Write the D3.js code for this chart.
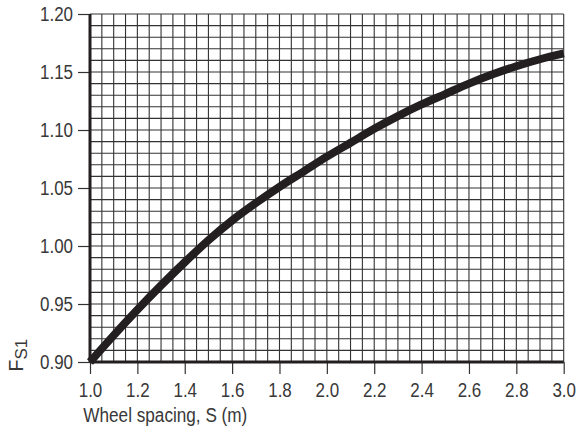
<!DOCTYPE html>
<html>
<head>
<meta charset="utf-8">
<script src="https://cdn.jsdelivr.net/npm/d3@7"></script>
<style>
  body { margin: 0; background: #fff; }
  text { font-family: "Liberation Sans", Arial, sans-serif; fill: #383838; }
</style>
</head>
<body>
<div id="chart"></div>
<script>
// values
const spacing = [1.0, 1.1, 1.2, 1.3, 1.4, 1.5, 1.6, 1.7, 1.8, 1.9, 2.0, 2.1, 2.2, 2.3, 2.4, 2.5, 2.6, 2.7, 2.8, 2.9, 3.0];
const fs1 = [0.900, 0.923, 0.945, 0.966, 0.986, 1.005, 1.022, 1.037, 1.051, 1.064, 1.077, 1.089, 1.101, 1.112, 1.122, 1.131, 1.140, 1.148, 1.155, 1.161, 1.166];
const xTicks = [1.0, 1.2, 1.4, 1.6, 1.8, 2.0, 2.2, 2.4, 2.6, 2.8, 3.0];
const yTicks = [0.90, 0.95, 1.00, 1.05, 1.10, 1.15, 1.20];
const xGridStep = 0.05;
const yGridStep = 0.01;

// condensed look: squeeze the glyphs of a text a little
function condense(sel, k) {
    sel.each(function () {
        const w = this.getComputedTextLength();
        d3.select(this)
            .attr("textLength", w * k)
            .attr("lengthAdjust", "spacingAndGlyphs");
    });
}

// set the dimensions and margins of the graph
var margin = { top: 14, right: 14.3, bottom: 74, left: 90 },
    width = 578 - margin.left - margin.right,
    height = 436 - margin.top - margin.bottom;

var svg = d3.select("#chart")
    .append("svg")
    .attr("width", 578)
    .attr("height", 436)
    .append("g")
    .attr("transform", `translate(${margin.left},${margin.top})`);

var x = d3.scaleLinear().domain([1.0, 3.0]).range([0, width]);
var y = d3.scaleLinear().domain([0.90, 1.20]).range([height, 0]);

// grid
const xGrid = d3.range(0, 41).map(i => 1.0 + i * xGridStep);
const yGrid = d3.range(0, 31).map(i => 0.90 + i * yGridStep);

svg.append("g")
    .selectAll("line")
    .data(xGrid)
    .join("line")
    .attr("x1", d => x(d)).attr("x2", d => x(d))
    .attr("y1", 0).attr("y2", height)
    .attr("stroke", "#333")
    .attr("stroke-width", 1.1);

svg.append("g")
    .selectAll("line")
    .data(yGrid)
    .join("line")
    .attr("y1", d => y(d)).attr("y2", d => y(d))
    .attr("x1", 0).attr("x2", width)
    .attr("stroke", "#333")
    .attr("stroke-width", 1.1);

// Y axis
var yAxis = svg.append("g")
    .call(d3.axisLeft(y).tickValues(yTicks).tickFormat(d3.format(".2f")).tickSize(12).tickPadding(5));
yAxis.select(".domain").remove();
yAxis.selectAll("line").attr("stroke", "#333").attr("stroke-width", 1.2);
yAxis.selectAll("text")
    .attr("font-size", "19.5px")
    .attr("font-family", null)
    .style("fill", "#383838")
    .call(condense, 0.87);

// X axis
var xAxis = svg.append("g")
    .attr("transform", `translate(0, ${height})`)
    .call(d3.axisBottom(x).tickValues(xTicks).tickFormat(d3.format(".1f")).tickSize(12).tickPadding(9.5));
xAxis.select(".domain").remove();
xAxis.selectAll("line").attr("stroke", "#333").attr("stroke-width", 1.2);
xAxis.selectAll("text")
    .attr("font-size", "19.5px")
    .attr("font-family", null)
    .style("fill", "#383838")
    .call(condense, 0.87);

// frame: thick left and bottom
svg.append("line")
    .attr("x1", 0).attr("x2", 0).attr("y1", 0).attr("y2", height)
    .attr("stroke", "#231f20").attr("stroke-width", 3);
svg.append("line")
    .attr("x1", 0).attr("x2", width).attr("y1", height).attr("y2", height)
    .attr("stroke", "#231f20").attr("stroke-width", 3);

// curve
const data = spacing.map((s, i) => ({ s: s, v: fs1[i] }));
svg.append("path")
    .datum(data)
    .attr("fill", "none")
    .attr("stroke", "#231f20")
    .attr("stroke-width", 8)
    .attr("d", d3.line()
        .x(d => x(d.s))
        .y(d => y(d.v))
        .curve(d3.curveMonotoneX));

// axis titles
svg.append("text")
    .attr("x", -6.7)
    .attr("y", height + 59.7)
    .attr("font-size", "19.5px")
    .text("Wheel spacing, S (m)")
    .call(condense, 0.88);

var yTitle = svg.append("text")
    .attr("transform", `translate(${-67}, ${height + 9.5}) rotate(-90)`)
    .attr("font-size", "19.5px");
yTitle.append("tspan").text("F");
yTitle.append("tspan")
    .attr("font-size", "17px")
    .attr("dy", "4")
    .text("S1");
</script>
</body>
</html>
